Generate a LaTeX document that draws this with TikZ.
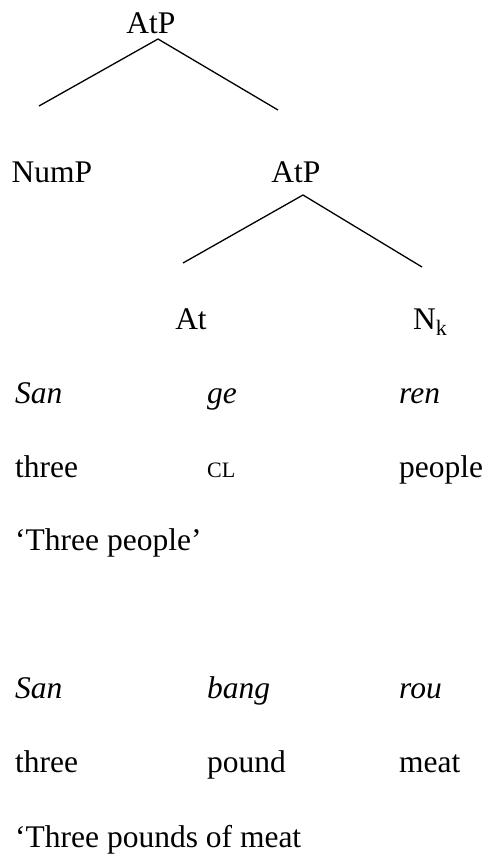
\documentclass[tikz,border=0pt]{standalone}
\usepackage{fontspec}
\setmainfont{Liberation Serif}
\usepackage{tikz}
\usetikzlibrary{positioning}
\tikzset{
  line/.style={draw=black, line width=1.3pt},
  word/.style={anchor=base west, inner sep=0pt, font=\fontsize{31.5}{38}\selectfont},
  label/.style={anchor=base, inner sep=0pt, font=\fontsize{31.5}{38}\selectfont}
}

\begin{document}
\begin{tikzpicture}[x=1pt, y=-1pt]
  \useasboundingbox (0,0) rectangle (488,857);
  % tree
  \node [label] (top) at (151,33) {AtP};
  \node [label] (nump) at (52,182) {NumP};
  \node [label] (atp) at (296,182) {AtP};
  \node [label] (at) at (191,329) {At};
  \node [word] (nk) at (413,329) {N\textsubscript{k}};

  \coordinate (a1) at (158,39);
  \coordinate (l1) at (39,106);
  \coordinate (r1) at (278,110);
  \coordinate (a2) at (303,195);
  \coordinate (l2) at (183,263);
  \coordinate (r2) at (422,267);

  \draw [line] (l1) -- (a1) -- (r1);
  \draw [line] (l2) -- (a2) -- (r2);

  % first gloss
  \node [word] (san1) at (15,403) {\textit{San}};
  \node [word] (ge) at (207,403) {\textit{ge}};
  \node [word] (ren) at (399,403) {\textit{ren}};
  \node [word] (three1) at (15,477) {three};
  \node [word] (cl) at (207,477) {{\fontsize{22}{26}\selectfont CL}};
  \node [word] (people) at (399,477) {people};
  \node [word] (tr1) at (15,550) {`Three people'};

  % second gloss
  \node [word] (san2) at (15,698) {\textit{San}};
  \node [word] (bang) at (207,698) {\textit{bang}};
  \node [word] (rou) at (399,698) {\textit{rou}};
  \node [word] (three2) at (15,772) {three};
  \node [word] (pound) at (207,772) {pound};
  \node [word] (meat) at (399,772) {meat};
  \node [word] (tr2) at (15,847) {`Three pounds of meat};
\end{tikzpicture}
\end{document}
